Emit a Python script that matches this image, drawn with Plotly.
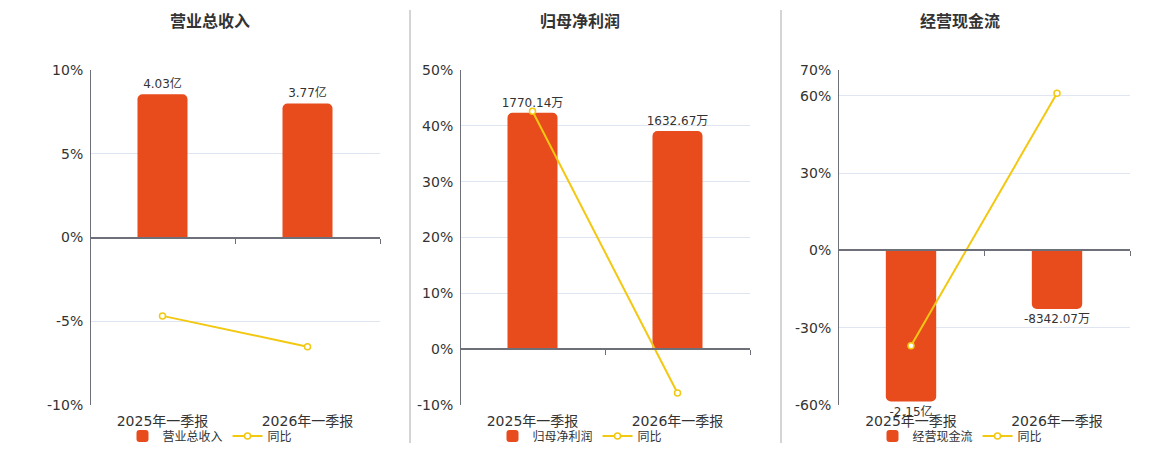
import plotly.graph_objects as go

# 报告期
periods = ["2025年一季报", "2026年一季报"]

# 营业总收入 (亿) 及同比 (%)
revenue = [4.03, 3.77]
revenue_text = ["4.03亿", "3.77亿"]
revenue_yoy = [-4.68, -6.52]

# 归母净利润 (万) 及同比 (%)
profit = [1770.14, 1632.67]
profit_text = ["1770.14万", "1632.67万"]
profit_yoy = [42.6, -7.85]

# 经营现金流 (亿) 及同比 (%)
cashflow = [-2.15, -0.834207]
cashflow_text = ["-2.15亿", "-8342.07万"]
cashflow_yoy = [-37.0, 61.0]

titles = ["营业总收入", "归母净利润", "经营现金流"]

BAR_COLOR = "#E84B1C"
LINE_COLOR = "#F2C811"
AXIS_COLOR = "#6E7079"
GRID_COLOR = "#E0E6F1"
TEXT_COLOR = "#333333"
FONT = "DejaVu Sans, Noto Sans CJK SC, sans-serif"

W, H = 1160, 450

panels = [
    dict(name=titles[0], bars=revenue, text=revenue_text, yoy=revenue_yoy,
         pct_range=[-10, 10], pct_ticks=[-10, -5, 0, 5, 10], bar_range=[-4.71, 4.71],
         x0=90, x1=380, title_x=210),
    dict(name=titles[1], bars=profit, text=profit_text, yoy=profit_yoy,
         pct_range=[-10, 50], pct_ticks=[-10, 0, 10, 20, 30, 40, 50], bar_range=[-418, 2090],
         x0=460, x1=750, title_x=580),
    dict(name=titles[2], bars=cashflow, text=cashflow_text, yoy=cashflow_yoy,
         pct_range=[-60, 70], pct_ticks=[-60, -30, 0, 30, 60, 70], bar_range=[-2.20, 2.568],
         x0=838, x1=1130, title_x=960),
]

y_top, y_bot = 70, 405
y_dom = [1 - y_bot / H, 1 - y_top / H]

fig = go.Figure()
layout = {}
annotations = []

for i, p in enumerate(panels, start=1):
    # bottom axis (labels) + bar axis, zero axis + percent axis overlaid on top
    xa_bot, ya_bar = f"x{2 * i - 1}", f"y{2 * i - 1}"
    xa_zero, ya_pct = f"x{2 * i}", f"y{2 * i}"
    leg = "legend" if i == 1 else f"legend{i}"
    x_dom = [p["x0"] / W, p["x1"] / W]
    lo, hi = p["pct_range"]
    zero_pos = y_dom[0] + (0 - lo) / (hi - lo) * (y_dom[1] - y_dom[0])

    fig.add_trace(go.Bar(
        x=periods, y=p["bars"], name=p["name"], xaxis=xa_bot, yaxis=ya_bar,
        marker_color=BAR_COLOR, width=0.345, text=p["text"],
        textposition="outside", cliponaxis=False, constraintext="none",
        textfont=dict(size=12, color=TEXT_COLOR), legend=leg,
    ))
    fig.add_trace(go.Scatter(
        x=periods, y=p["yoy"], name="同比", xaxis=xa_zero, yaxis=ya_pct,
        mode="lines+markers", line=dict(color=LINE_COLOR, width=2),
        marker=dict(size=6, color="white", line=dict(color=LINE_COLOR, width=1.5)),
        cliponaxis=False, legend=leg,
    ))

    n_bot = "" if 2 * i - 1 == 1 else 2 * i - 1
    layout[f"xaxis{n_bot}"] = dict(
        domain=x_dom, anchor=ya_bar, type="category", range=[-0.5, 1.5],
        showline=False, ticks="", showgrid=False, zeroline=False,
        automargin=False, ticklabelstandoff=6,
        tickfont=dict(size=14, color=TEXT_COLOR),
    )
    layout[f"yaxis{n_bot}"] = dict(
        domain=y_dom, anchor=xa_bot, range=p["bar_range"], showgrid=False,
        showticklabels=False, zeroline=False, showline=False, ticks="",
        automargin=False,
    )
    layout[f"xaxis{2 * i}"] = dict(
        domain=x_dom, anchor="free", position=zero_pos, overlaying=xa_bot,
        type="category", range=[-0.5, 1.5], tickson="boundaries",
        ticks="outside", ticklen=5, tickcolor=AXIS_COLOR, tickwidth=1,
        showticklabels=False, showgrid=False, zeroline=False, showline=True,
        linecolor=AXIS_COLOR, linewidth=2, automargin=False,
    )
    layout[f"yaxis{2 * i}"] = dict(
        domain=y_dom, anchor="free", position=x_dom[0], overlaying=ya_bar,
        side="left", range=p["pct_range"], tickmode="array",
        tickvals=p["pct_ticks"], ticktext=[f"{v}%" for v in p["pct_ticks"]],
        showgrid=True, gridcolor=GRID_COLOR, gridwidth=1, zeroline=False,
        showline=True, linecolor=AXIS_COLOR, linewidth=1, ticks="",
        ticklabelstandoff=4,
        tickfont=dict(size=14, color=TEXT_COLOR), automargin=False,
    )
    layout[leg] = dict(
        orientation="h", x=p["title_x"] / W, xanchor="center",
        y=1 - 436 / H, yanchor="middle", font=dict(size=12, color=TEXT_COLOR),
        bgcolor="rgba(0,0,0,0)", tracegroupgap=0,
    )
    annotations.append(dict(
        text=f"<b>{p['name']}</b>", x=p["title_x"] / W, y=1 - 22 / H,
        xref="paper", yref="paper", showarrow=False,
        font=dict(size=16, color=TEXT_COLOR), xanchor="center", yanchor="middle",
    ))

# separators between panels
shapes = []
for sx in [410, 781]:
    shapes.append(dict(type="line", xref="paper", yref="paper",
                       x0=sx / W, x1=sx / W, y0=1 - 443 / H, y1=1 - 10 / H,
                       line=dict(color="#AAAAAA", width=1)))

fig.update_layout(
    template="none",
    width=W, height=H, margin=dict(l=0, r=0, t=0, b=0, autoexpand=False),
    paper_bgcolor="white", plot_bgcolor="white",
    font=dict(family=FONT, color=TEXT_COLOR),
    barcornerradius=5, showlegend=True,
    annotations=annotations, shapes=shapes,
    **layout,
)

fig.write_html("out.html", config={"displayModeBar": False},
               post_script="document.body.style.margin='0';")
